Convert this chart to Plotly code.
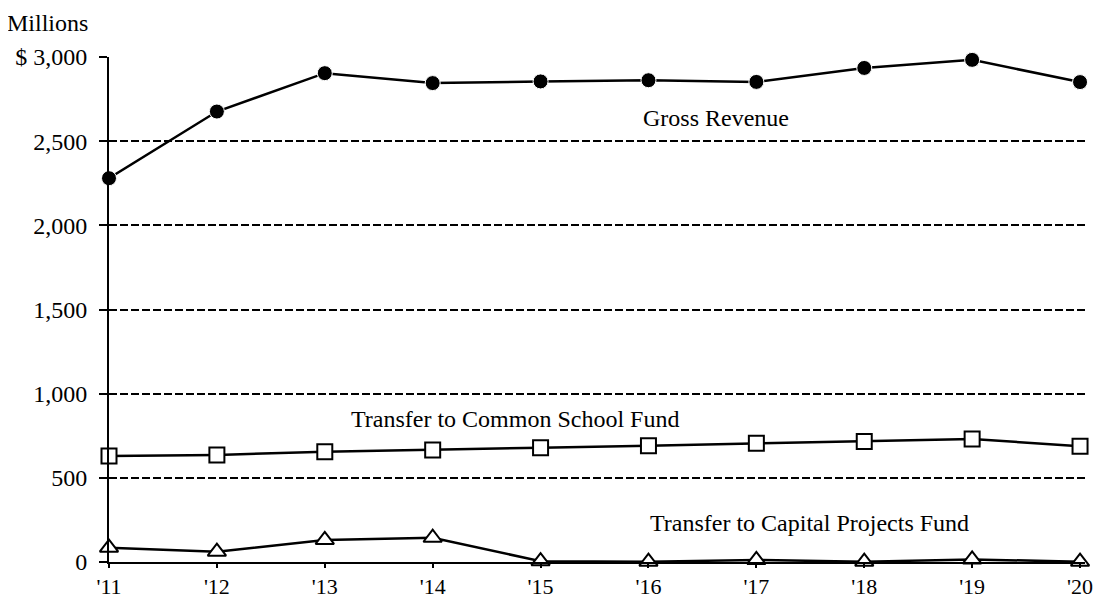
import plotly.graph_objects as go

years = [2011, 2012, 2013, 2014, 2015, 2016, 2017, 2018, 2019, 2020]
year_labels = ["'11", "'12", "'13", "'14", "'15", "'16", "'17", "'18", "'19", "'20"]
gross_revenue = [2280, 2676, 2904, 2845, 2855, 2862, 2852, 2935, 2983, 2851]
common_school = [630, 636, 655, 665, 679, 691, 705, 716, 731, 688]
capital_projects = [85, 61, 131, 144, 5, 2, 12, 2, 15, 2]
y_ticks = [0, 500, 1000, 1500, 2000, 2500, 3000]
y_tick_labels = ["0", "500", "1,000", "1,500", "2,000", "2,500", "$ 3,000"]

FONT = "Liberation Serif, Times New Roman, serif"
FS = 24

fig = go.Figure()
fig.add_trace(go.Scatter(
    x=years, y=gross_revenue, mode="lines+markers",
    line=dict(color="black", width=2.5),
    marker=dict(symbol="circle", size=15, color="black", line=dict(color="white", width=1)),
    cliponaxis=False, hoverinfo="skip"))
fig.add_trace(go.Scatter(
    x=years, y=common_school, mode="lines+markers",
    line=dict(color="black", width=2.5),
    marker=dict(symbol="square", size=15, color="white", line=dict(color="black", width=2)),
    cliponaxis=False, hoverinfo="skip"))
fig.add_trace(go.Scatter(
    x=years, y=capital_projects, mode="lines+markers",
    line=dict(color="black", width=2.5),
    marker=dict(symbol="triangle-up", size=16, color="white", line=dict(color="black", width=2)),
    cliponaxis=False, hoverinfo="skip"))

annots = [
    dict(x=2016.63, y=2640, text="Gross Revenue"),
    dict(x=2014.76, y=850, text="Transfer to Common School Fund"),
    dict(x=2017.49, y=232, text="Transfer to Capital Projects Fund"),
]
for a in annots:
    fig.add_annotation(x=a["x"], y=a["y"], text=a["text"], xref="x", yref="y",
                       showarrow=False, xanchor="center", yanchor="middle",
                       font=dict(family=FONT, size=FS, color="black"))

fig.add_annotation(x=-0.1055, y=1.0673, xref="paper", yref="paper", text="Millions",
                   showarrow=False, xanchor="left", yanchor="middle", borderpad=0,
                   font=dict(family=FONT, size=FS, color="black"))

fig.update_layout(
    width=1105, height=600,
    margin=dict(l=101, r=28, t=49, b=46),
    paper_bgcolor="white", plot_bgcolor="white",
    showlegend=False,
    font=dict(family=FONT, size=FS, color="black"),
    xaxis=dict(range=[2011, 2020.046], tickvals=years, ticktext=year_labels,
               automargin=False,
               showgrid=False, zeroline=False, showline=True, linecolor="black", linewidth=2,
               ticks="outside", ticklen=4, tickwidth=2, tickcolor="black",
               tickfont=dict(family=FONT, size=22, color="black")),
    yaxis=dict(range=[0, 3000], tickvals=y_ticks, ticktext=y_tick_labels,
               automargin=False, ticklabelstandoff=7,
               showgrid=True, gridcolor="black", gridwidth=2, griddash="8px,3px",
               zeroline=False, showline=True, linecolor="black", linewidth=2,
               ticks="outside", ticklen=8, tickwidth=2, tickcolor="black",
               tickfont=dict(family=FONT, size=FS, color="black")),
)

fig.write_html("out.html")
